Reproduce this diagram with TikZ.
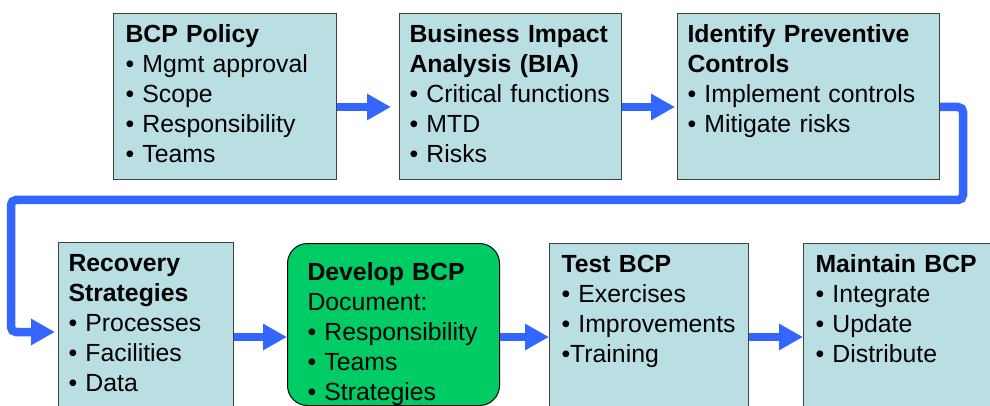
\documentclass[tikz,border=0pt]{standalone}
\usepackage{fontspec}
\setmainfont{Liberation Sans}
\usepackage{tikz}
\usetikzlibrary{arrows.meta}
\definecolor{stagefill}{RGB}{185,223,227}
\definecolor{devfill}{RGB}{0,204,102}
\definecolor{flowblue}{RGB}{51,102,255}
\hyphenpenalty=10000
\exhyphenpenalty=10000
\tikzset{
	stage/.style    = {draw=black!75, fill=stagefill, line width=1pt, rectangle,
		anchor=north west, align=left, inner xsep=12pt, inner ysep=0pt,
		text height=29pt, font=\fontsize{24.8pt}{30pt}\selectfont},
	devstage/.style = {stage, draw=black, fill=devfill, rounded corners=20pt,
		inner xsep=20pt, text height=37pt},
	flow/.style     = {draw=flowblue, line width=8.5pt,
		-{Triangle[length=24pt,width=25pt]}}
}
\newcommand{\hd}[1]{\textbf{#1}}

\begin{document}
\begin{tikzpicture}[x=1pt, y=-1pt]
\clip (0,0) rectangle (990,406);
\draw
% top row of stages
node at (113,13)[stage, text width=199pt, text depth=137pt] (pol)
	{\hd{BCP Policy}\\ • Mgmt approval\\ • Scope\\ • Responsibility\\ • Teams}
node at (399,13)[stage, inner xsep=10pt, text width=202pt, text depth=137pt] (bia)
	{\hd{Business Impact}\\ \hd{Analysis (BIA)}\\ \mbox{• Critical functions}\\ • MTD\\ • Risks}
node at (677,13)[stage, inner xsep=10pt, text width=242pt, text depth=137pt] (ctl)
	{\hd{Identify Preventive}\\ \hd{Controls}\\ • Implement controls\\ • Mitigate risks}
% bottom row of stages
node at (58,242)[stage, inner xsep=10pt, text width=155pt, text depth=149pt] (rec)
	{\hd{Recovery}\\ \hd{Strategies}\\ • Processes\\ • Facilities\\ • Data}
node at (287,243)[devstage, text width=172pt, text depth=125pt] (dev)
	{\hd{Develop BCP}\\ Document:\\ • Responsibility\\ • Teams\\ • Strategies}
node at (549,243)[stage, text width=175pt, text depth=148pt] (tst)
	{\hd{Test BCP}\\ • Exercises\\ \mbox{• Improvements}\\ •Training}
node at (803,243)[stage, text width=176pt, text depth=148pt] (mnt)
	{\hd{Maintain BCP}\\ • Integrate\\ • Update\\ • Distribute};

\coordinate (toprow) at (0,107);
\coordinate (botrow) at (0,337);
\coordinate (loopR) at (963,200);
\coordinate (loopL) at (11,332);

\draw[flow, shorten >=8pt](pol.east |- toprow) -- (bia.west |- toprow);
\draw[flow, shorten >=2pt](bia.east |- toprow) -- (ctl.west |- toprow);
\draw[flow, shorten >=3pt, rounded corners=5pt](ctl.east |- toprow) -| (loopR) -| (loopL) -- (rec.west |- loopL);
\draw[flow](rec.east |- botrow) -- (dev.west |- botrow);
\draw[flow](dev.east |- botrow) -- (tst.west |- botrow);
\draw[flow](tst.east |- botrow) -- (mnt.west |- botrow);
\end{tikzpicture}
\end{document}
